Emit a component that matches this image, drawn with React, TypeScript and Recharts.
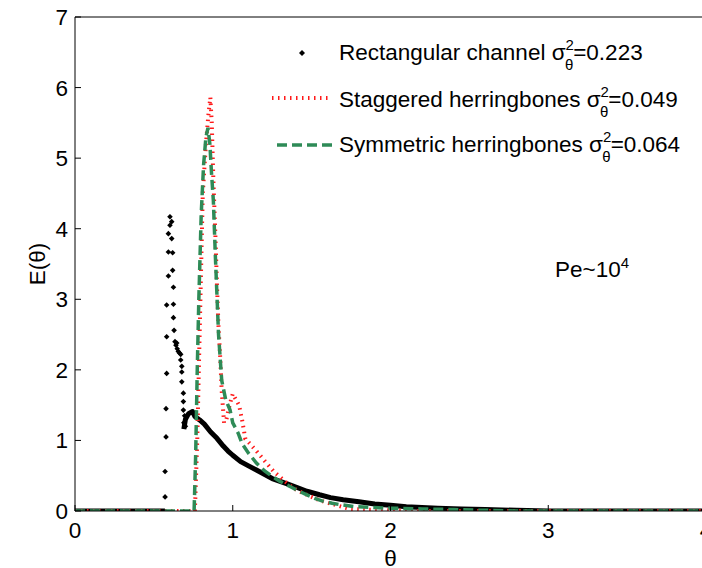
import React from "react";
import { ComposedChart, Line, Scatter, XAxis, YAxis, Legend } from "recharts";

const FONT = '"Liberation Sans", Arial, sans-serif';

/* ── data ─────────────────────────────────────────────────── */

const xTicks = [0, 1, 2, 3, 4];
const yTicks = [0, 1, 2, 3, 4, 5, 6, 7];

// rectangular channel, dense part (null = break in the curve)
const rectTheta = [
  0, 0.57, 0.63, 0.69, 0.7, 0.72, 0.745, 0.76, 0.79, 0.82, 0.86, 0.9, 0.94, 0.97,
  1.0, 1.05, 1.1, 1.15, 1.2, 1.25, 1.3, 1.35, 1.4, 1.47, 1.55, 1.62, 1.7, 1.8,
  1.9, 2.0, 2.1, 2.2, 2.3, 2.45, 2.6, 2.8, 3.0, 4.0,
];
const rectE = [
  0, 0, null, 1.16, 1.3, 1.38, 1.41, 1.34, 1.29, 1.23, 1.12, 1.03, 0.92, 0.85,
  0.79, 0.7, 0.64, 0.58, 0.52, 0.46, 0.42, 0.38, 0.34, 0.28, 0.23, 0.19, 0.16,
  0.13, 0.1, 0.08, 0.06, 0.05, 0.04, 0.03, 0.02, 0.01, 0, 0,
];

// rectangular channel, scattered points around the first peak
const rectDotTheta = [
  0.602, 0.613, 0.602, 0.592, 0.613, 0.592, 0.619, 0.619, 0.592, 0.624, 0.581,
  0.624, 0.624, 0.581, 0.628, 0.634, 0.64, 0.645, 0.648, 0.655, 0.662, 0.67,
  0.67, 0.677, 0.677, 0.677, 0.687, 0.687, 0.687, 0.581, 0.577, 0.577, 0.571,
  0.571, 0.69, 0.695, 0.7,
];
const rectDotE = [
  4.17, 4.1, 4.05, 3.93, 3.86, 3.67, 3.66, 3.41, 3.33, 3.17, 2.92, 2.93, 2.74,
  2.47, 2.56, 2.4, 2.35, 2.38, 2.3, 2.26, 2.24, 2.22, 2.14, 2.05, 1.97, 1.83,
  1.67, 1.55, 1.43, 1.95, 1.45, 1.05, 0.56, 0.2, 1.25, 1.35, 1.2,
];

// staggered herringbones
const stagTheta = [
  0, 0.76, 0.775, 0.79, 0.8, 0.81, 0.83, 0.845, 0.858, 0.867, 0.877, 0.89, 0.9,
  0.91, 0.92, 0.93, 0.945, 0.96, 0.98, 1.0, 1.02, 1.04, 1.06, 1.08, 1.11, 1.15,
  1.21, 1.26, 1.32, 1.38, 1.42, 1.48, 1.53, 1.58, 1.63, 1.69, 1.74, 1.85, 2.0,
  2.2, 4.0,
];
const stagE = [
  0, 0, 1.0, 2.5, 3.5, 4.5, 5.2, 5.6, 5.86, 5.5, 4.7, 3.9, 3.2, 2.6, 2.2, 1.7,
  1.25, 1.3, 1.5, 1.66, 1.58, 1.5, 1.28, 1.02, 0.95, 0.85, 0.69, 0.56, 0.44,
  0.33, 0.28, 0.22, 0.17, 0.13, 0.1, 0.06, 0.03, 0.02, 0.01, 0, 0,
];

// symmetric herringbones
const symTheta = [
  0, 0.755, 0.765, 0.775, 0.785, 0.8, 0.815, 0.83, 0.843, 0.855, 0.865, 0.877,
  0.89, 0.91, 0.93, 0.955, 0.983, 1.0, 1.035, 1.06, 1.1, 1.15, 1.2, 1.25, 1.3,
  1.36, 1.42, 1.46, 1.52, 1.57, 1.63, 1.68, 1.78, 1.89, 2.0, 2.2, 2.4, 2.6, 2.8,
  4.0,
];
const symE = [
  0, 0, 0.8, 2.0, 3.0, 4.2, 4.9, 5.3, 5.43, 5.2, 4.8, 4.4, 3.6, 2.5, 1.85, 1.58,
  1.43, 1.25, 1.1, 0.95, 0.82, 0.68, 0.57, 0.49, 0.42, 0.35, 0.28, 0.24, 0.18,
  0.14, 0.11, 0.09, 0.06, 0.05, 0.04, 0.03, 0.02, 0.01, 0, 0,
];

const zip = (t: number[], e: (number | null)[]) =>
  t.map((x, i) => ({ x, y: e[i] }));

const rectData = zip(rectTheta, rectE);
const rectDots = zip(rectDotTheta, rectDotE);
const stagData = zip(stagTheta, stagE);
const symData = zip(symTheta, symE);

const RED = "#ff1a1a";
const GREEN = "#2e8b57";

/* ── small pieces ─────────────────────────────────────────── */

function Dot({ cx, cy }: any) {
  if (cx == null || cy == null) return null;
  const r = 2.8;
  return (
    <path
      d={`M${cx},${cy - r}L${cx + r},${cy}L${cx},${cy + r}L${cx - r},${cy}Z`}
      fill="#000"
    />
  );
}

function SigmaRow({ y, label, value }: { y: number; label: string; value: string }) {
  return (
    <text x={339} y={y} fontSize={22.5} fontFamily={FONT} fill="#000">
      {label} σ
      <tspan fontSize={15} dy={-10}>2</tspan>
      <tspan fontSize={15} dx={-9} dy={20}>θ</tspan>
      <tspan dy={-10}>{value}</tspan>
    </text>
  );
}

function PlotLegend() {
  return (
    <svg width={702} height={170} style={{ display: "block" }}>
      <path d="M302,50L305,53L302,56L299,53Z" fill="#000" />
      <line x1={272} y1={98} x2={329} y2={98} stroke={RED} strokeWidth={4} strokeDasharray="1.5 4.5" />
      <line x1={277} y1={145} x2={332} y2={145} stroke={GREEN} strokeWidth={3.5} strokeDasharray="10 5" />
      <SigmaRow y={60} label="Rectangular channel" value="=0.223" />
      <SigmaRow y={107} label="Staggered herringbones" value="=0.049" />
      <SigmaRow y={152} label="Symmetric herringbones" value="=0.064" />
    </svg>
  );
}

/* ── chart ────────────────────────────────────────────────── */

export default function App() {
  const tick = { fontSize: 22.5, fill: "#000", fontFamily: FONT };
  return (
    <div
      style={{
        position: "fixed",
        left: 0,
        top: 0,
        width: 702,
        height: 568,
        overflow: "hidden",
        background: "#fff",
      }}
    >
      <ComposedChart
        width={710}
        height={568}
        margin={{ top: 16, right: 3, bottom: 0, left: 0 }}
      >
        <XAxis
          dataKey="x"
          type="number"
          domain={[0, 4]}
          ticks={xTicks}
          interval={0}
          height={57}
          tick={tick}
          tickSize={-6}
          tickMargin={17}
          axisLine={{ stroke: "#000" }}
          tickLine={{ stroke: "#000" }}
          allowDataOverflow
          label={{
            value: "θ",
            position: "insideBottom",
            offset: 2,
            style: { fontSize: 22.5, fill: "#000", fontFamily: FONT },
          }}
        />
        <XAxis
          xAxisId="top"
          orientation="top"
          type="number"
          domain={[0, 4]}
          ticks={xTicks}
          interval={0}
          height={1}
          tick={false}
          tickSize={-6}
          axisLine={{ stroke: "#000" }}
          tickLine={{ stroke: "#000" }}
          allowDataOverflow
        />
        <YAxis
          type="number"
          domain={[0, 7]}
          ticks={yTicks}
          interval={0}
          width={75}
          tick={tick}
          tickSize={-6}
          tickMargin={13}
          axisLine={{ stroke: "#000" }}
          tickLine={{ stroke: "#000" }}
          allowDataOverflow
          label={{
            value: "E(θ)",
            angle: -90,
            position: "insideLeft",
            offset: 37,
            style: { fontSize: 22.5, fill: "#000", fontFamily: FONT, textAnchor: "middle" },
          }}
        />
        <YAxis
          yAxisId="right"
          orientation="right"
          type="number"
          domain={[0, 7]}
          ticks={yTicks}
          interval={0}
          width={1}
          tick={false}
          tickSize={-6}
          axisLine={{ stroke: "#000" }}
          tickLine={{ stroke: "#000" }}
          allowDataOverflow
        />
        <Legend
          layout="horizontal"
          verticalAlign="middle"
          align="center"
          content={() => <PlotLegend />}
          wrapperStyle={{ left: 0, top: 0, width: 702, height: 170 }}
        />
        <Line
          data={rectData}
          dataKey="y"
          stroke="#000"
          strokeWidth={5}
          dot={false}
          connectNulls={false}
          isAnimationActive={false}
          strokeLinejoin="round"
        />
        <Scatter
          data={rectDots}
          dataKey="y"
          shape={<Dot />}
          isAnimationActive={false}
        />
        <Line
          data={stagData}
          dataKey="y"
          stroke={RED}
          strokeWidth={4}
          strokeDasharray="1.5 4.5"
          dot={false}
          isAnimationActive={false}
        />
        <Line
          data={symData}
          dataKey="y"
          stroke={GREEN}
          strokeWidth={3.5}
          strokeDasharray="10 5"
          dot={false}
          isAnimationActive={false}
        />
      </ComposedChart>
      <div
        style={{
          position: "absolute",
          left: 555,
          top: 251,
          fontFamily: FONT,
          fontSize: 22.5,
          lineHeight: "24px",
          color: "#000",
          whiteSpace: "nowrap",
        }}
      >
        Pe~10<sup style={{ fontSize: 15, verticalAlign: "9px" }}>4</sup>
      </div>
    </div>
  );
}
